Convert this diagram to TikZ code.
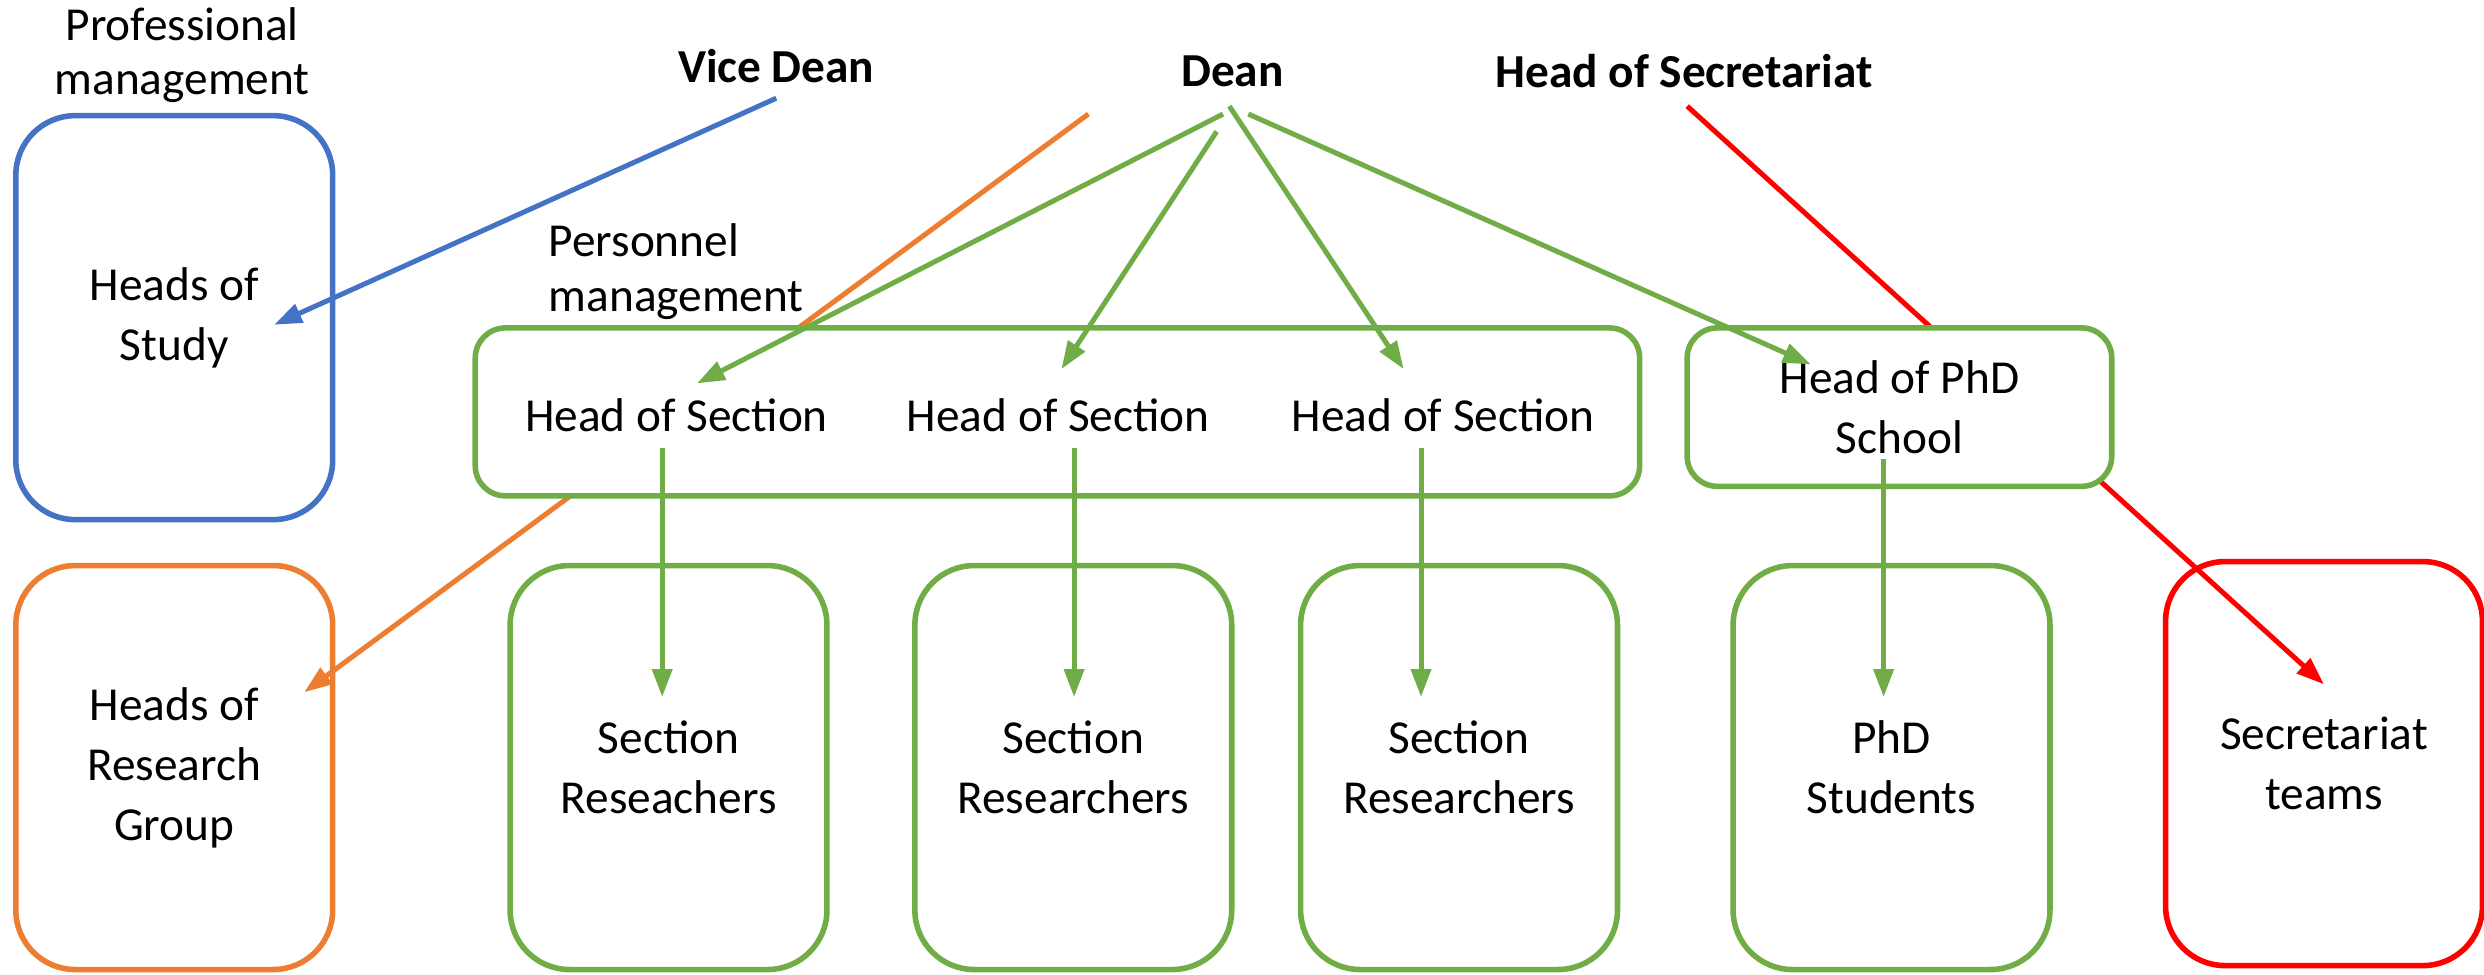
\documentclass[tikz,border=0pt]{standalone}
\usepackage{fontspec}
\setmainfont{Carlito}
\usetikzlibrary{arrows.meta,shapes}
\definecolor{offblue}{HTML}{4472C4}
\definecolor{offorange}{HTML}{ED7D31}
\definecolor{offgreen}{HTML}{70AD47}
\definecolor{offred}{HTML}{FF0000}
\tikzstyle{unit} = [rectangle, draw, fill=white, line width=2pt, align=center,
    rounded corners=0.75cm, minimum width=4cm, minimum height=5.1cm, inner sep=0pt]
\tikzstyle{headbox} = [rectangle, draw=offgreen, fill=white, line width=2pt,
    rounded corners=0.38cm, inner sep=0pt, align=center]
\tikzstyle{note} = [align=center, inner sep=0pt, font=\fontsize{17}{19.5}\selectfont]
\tikzstyle{boss} = [note, font=\fontsize{17}{19.5}\selectfont\bfseries]
\tikzstyle{link} = [->, line width=1.8pt]

\begin{document}
\begin{tikzpicture}[>={Triangle[length=10pt,width=7pt]},
                    every node/.style={font=\fontsize{17}{21.6}\selectfont}]
  \useasboundingbox (0,0) rectangle (31.36,-12.3);

  % top labels
  \node[note] (prof) at (2.3,-0.7) {Professional\\management};
  \node[boss] (vice) at (9.8,-0.84) {Vice Dean};
  \node[boss] (dean) at (15.56,-0.9) {Dean};
  \node[boss] (hsec) at (21.26,-0.9) {Head of Secretariat};
  \node[note, anchor=west, align=left] (pers) at (6.92,-3.43) {Personnel\\management};

  % free ends of the connectors
  \coordinate (viceOut)   at (9.8,-1.24);
  \coordinate (studyIn)   at (3.46,-4.1);
  \coordinate (orangeOut) at (13.74,-1.44);
  \coordinate (groupIn)   at (3.84,-8.74);
  \coordinate (redOut)    at (21.3,-1.34);
  \coordinate (teamsIn)   at (29.34,-8.64);
  \coordinate (deanA) at (15.44,-1.44);
  \coordinate (deanB) at (15.36,-1.66);
  \coordinate (deanC) at (15.52,-1.34);
  \coordinate (deanD) at (15.76,-1.44);
  \coordinate (hsInA) at (8.8,-4.84);
  \coordinate (hsInB) at (13.4,-4.66);
  \coordinate (hsInC) at (17.72,-4.66);
  \coordinate (phdIn) at (22.86,-4.6);
  \coordinate (hsOutA) at (8.36,-5.66);
  \coordinate (hsOutB) at (13.56,-5.66);
  \coordinate (hsOutC) at (17.94,-5.66);
  \coordinate (phdOut) at (23.78,-5.8);
  \coordinate (resInA) at (8.36,-8.8);
  \coordinate (resInB) at (13.56,-8.8);
  \coordinate (resInC) at (17.94,-8.8);
  \coordinate (stuIn)  at (23.78,-8.8);

  % lower row
  \node[unit, draw=offorange] (group) at (2.2,-9.69)  {Heads of\\Research\\Group};
  \node[unit, draw=offgreen]  (resA)  at (8.44,-9.69) {Section\\Reseachers};
  \node[unit, draw=offgreen]  (resB)  at (13.55,-9.69) {Section\\Researchers};
  \node[unit, draw=offgreen]  (resC)  at (18.42,-9.69) {Section\\Researchers};
  \node[unit, draw=offgreen]  (stud)  at (23.88,-9.69) {PhD\\Students};
  \node[unit, draw=offred]    (teams) at (29.34,-9.64) {Secretariat\\teams};

  % lines that run behind the upper boxes
  \draw[link, offorange] (orangeOut) -- (groupIn);
  \draw[link, offred] (redOut) -- (teamsIn);

  % upper row
  \node[unit, draw=offblue] (study) at (2.2,-4.01) {Heads of\\Study};
  \node[headbox, minimum width=14.7cm, minimum height=2.12cm] (sect) at (13.35,-5.2) {};
  \node[headbox, minimum width=5.36cm, minimum height=2cm] (phd) at (23.98,-5.14) {Head of PhD\\School};
  \node (hsA) at (8.54,-5.24) {Head of Section};
  \node (hsB) at (13.36,-5.24) {Head of Section};
  \node (hsC) at (18.22,-5.24) {Head of Section};

  \draw[link, offblue] (viceOut) -- (studyIn);
  \draw[link, offgreen] (deanA) -- (hsInA);
  \draw[link, offgreen] (deanB) -- (hsInB);
  \draw[link, offgreen] (deanC) -- (hsInC);
  \draw[link, offgreen] (deanD) -- (phdIn);
  \draw[link, offgreen] (hsOutA) -- (resInA);
  \draw[link, offgreen] (hsOutB) -- (resInB);
  \draw[link, offgreen] (hsOutC) -- (resInC);
  \draw[link, offgreen] (phdOut) -- (stuIn);
\end{tikzpicture}
\end{document}
